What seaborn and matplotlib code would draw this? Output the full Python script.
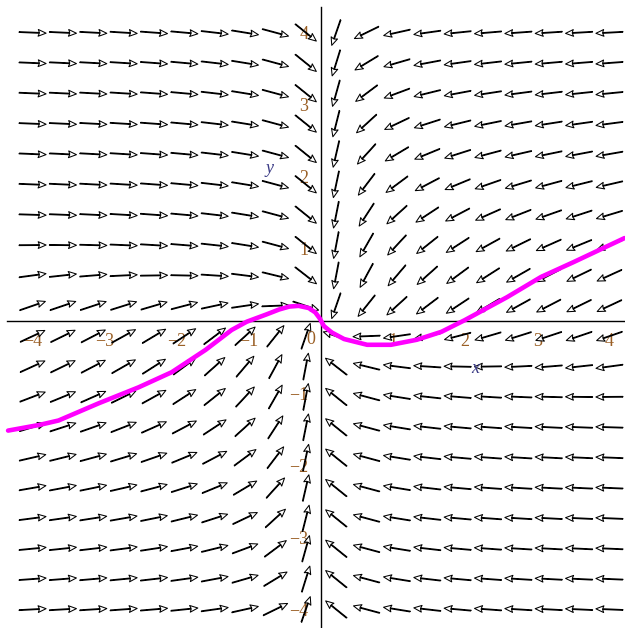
import numpy as np
import pandas as pd
import matplotlib
matplotlib.use("Agg")
import matplotlib.pyplot as plt
import seaborn as sns

# Sample grid of the direction field (20 x 20 arrows)
grid_x = np.linspace(-4, 4, 20)
grid_y = np.linspace(-4, 4, 20)

# Solution curve traced through the field
curve_x = [-4.34, -3.90, -3.64, -3.08, -2.53, -2.07, -1.60, -1.24, -1.03, -0.76,
           -0.58, -0.44, -0.31, -0.17, -0.08, -0.02, 0.04, 0.15, 0.32, 0.64,
           0.97, 1.33, 1.67, 1.99, 2.58, 3.05, 3.51, 4.21]
curve_y = [-1.52, -1.44, -1.38, -1.14, -0.92, -0.71, -0.40, -0.125, -0.01, 0.09,
           0.16, 0.20, 0.21, 0.18, 0.12, 0.04, -0.07, -0.16, -0.25, -0.33,
           -0.33, -0.26, -0.15, 0.01, 0.33, 0.61, 0.82, 1.15]

# Axis ticks
major_ticks = [-4, -3, -2, -1, 1, 2, 3, 4]
major_labels = ["\u22124", "\u22123", "\u22122", "\u22121", "1", "2", "3", "4"]
minor_ticks = [-3.5, -2.5, -1.5, -0.5, 0.5, 1.5, 2.5, 3.5]


def slope(x, y):
    """Right-hand side dy/dx of the plotted equation."""
    X = np.abs(x)
    Y = np.sign(x) * y
    amp = 1.3 + 0.25 * X
    spread = 1.5 + 0.9 / X ** 0.8
    centre = 0.2 - 0.16 * X
    width = 0.14 + 0.04 * X
    bump = amp / (1 + (Y / spread) ** 2) / (1 + np.exp(-(Y - centre) / width))
    return (bump - 0.17) / X


sns.set_style("white")
plt.rcParams["font.family"] = ["Liberation Serif", "DejaVu Serif"]

fig = plt.figure(figsize=(6.25, 6.28), dpi=100)
ax = fig.add_axes([0, 0, 1, 1])
ax.set_facecolor("white")

# direction field: trajectories run toward the y axis
GX, GY = np.meshgrid(grid_x, grid_y)
S = slope(GX, GY)
dx = -np.sign(GX)
dy = dx * S
norm = np.hypot(dx, dy)
L = 0.375
U = L * dx / norm
V = L * dy / norm
ax.quiver(GX, GY, U, V, angles="xy", scale_units="xy", scale=1, pivot="middle",
          units="xy", width=0.011, headwidth=8.5, headlength=10, headaxislength=8.5,
          facecolor="white", edgecolor="black", linewidth=0.75, zorder=3)

# solution curve
curve = pd.DataFrame({"x": curve_x, "y": curve_y})
sns.lineplot(data=curve, x="x", y="y", sort=False, estimator=None,
             color="#ff00ff", linewidth=3.3, ax=ax, zorder=4)

# axes through the origin
px = 72.1
ax.set_xlim(-321 / px, (625 - 321) / px)
ax.set_ylim(-(628 - 321) / px, 321 / px)
ax.set_aspect("auto")
for side in ["top", "right"]:
    ax.spines[side].set_visible(False)
ax.spines["left"].set_position(("data", 0))
ax.spines["bottom"].set_position(("data", 0))
ax.spines["left"].set_bounds(-4.36, 4.36)
ax.spines["bottom"].set_bounds(-4.36, 4.36)
for side in ["left", "bottom"]:
    ax.spines[side].set_color("black")
    ax.spines[side].set_linewidth(1.0)
    ax.spines[side].set_zorder(2)

label_color = "#9a5f25"
ax.set_xticks(major_ticks)
ax.set_xticklabels(major_labels)
ax.set_yticks(major_ticks)
ax.set_yticklabels(major_labels)
ax.set_xticks(minor_ticks, minor=True)
ax.set_yticks(minor_ticks, minor=True)
ax.tick_params(which="both", direction="out", length=3.2, width=0.9, color="black")
ax.tick_params(axis="x", which="major", pad=5.5, labelsize=13, labelcolor=label_color)
ax.tick_params(axis="y", which="major", pad=6.0, labelsize=13, labelcolor=label_color)
ax.set_xlabel("")
ax.set_ylabel("")

ax.annotate("0", xy=(0, 0), xytext=(-10, -18), textcoords="offset pixels",
            ha="center", va="center", fontsize=13, color=label_color)
ax.text(2.14, -0.66, "x", fontsize=13, fontstyle="italic", color="#3b3b86",
        ha="center", va="center")
ax.text(-0.71, 2.12, "y", fontsize=13, fontstyle="italic", color="#3b3b86",
        ha="center", va="center")

fig.savefig("out.png", dpi=100, facecolor="white")
